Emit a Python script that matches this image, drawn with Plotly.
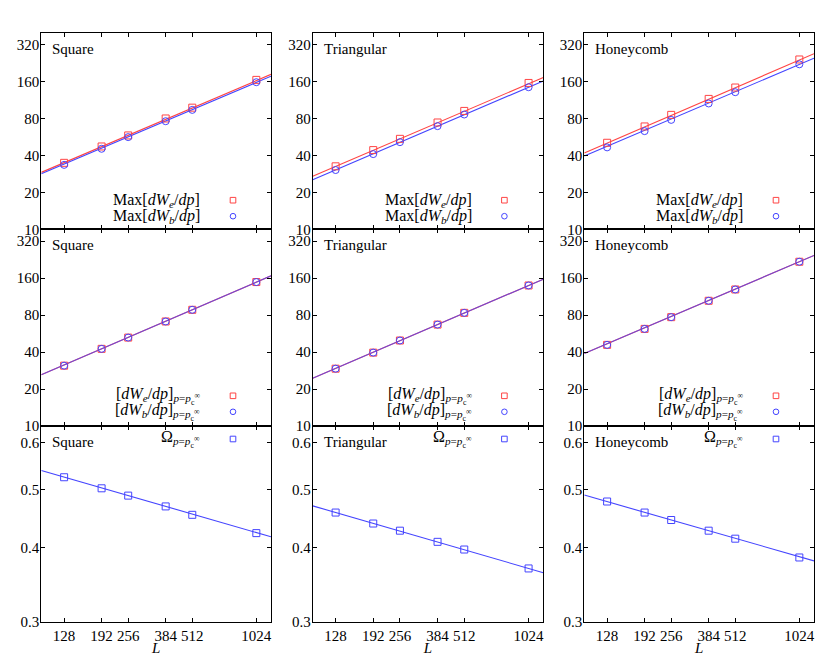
import math
import plotly.graph_objects as go

W, H = 830, 656

L = [128, 192, 256, 384, 512, 1024]
fit_L = [100, 1200]
x_ticks = [128, 192, 256, 384, 512, 1024]
y_ticks_dw = [10, 20, 40, 80, 160, 320]
y_ticks_om = [0.3, 0.4, 0.5, 0.6]

lattices = ["Square", "Triangular", "Honeycomb"]

# Row 1: Max[dW_e/dp] (red squares) and Max[dW_b/dp] (blue circles)
max_e = {
    "Square": [34.8, 47.3, 58.2, 80.0, 98.0, 165.0],
    "Triangular": [32.6, 44.2, 54.6, 74.2, 92.2, 155.8],
    "Honeycomb": [50.7, 68.9, 85.6, 115.5, 143.0, 242.0],
}
max_b = {
    "Square": [33.5, 45.3, 56.4, 76.0, 94.0, 158.0],
    "Triangular": [30.4, 41.0, 51.3, 69.3, 86.2, 143.8],
    "Honeycomb": [46.5, 63.1, 77.9, 106.0, 131.0, 221.0],
}
max_e_fit = {
    "Square": [29.1, 183.0],
    "Triangular": [27.1, 172.5],
    "Honeycomb": [41.8, 270.0],
}
max_b_fit = {
    "Square": [28.3, 177.0],
    "Triangular": [25.3, 161.8],
    "Honeycomb": [39.5, 248.0],
}

# Row 2: [dW/dp] at p = p_c^inf
pc_e = {
    "Square": [31.0, 42.5, 52.5, 71.0, 88.4, 148.7],
    "Triangular": [29.3, 39.6, 49.7, 67.0, 83.5, 139.5],
    "Honeycomb": [45.8, 61.8, 77.0, 104.7, 129.4, 217.7],
}
pc_b = {
    "Square": [31.0, 42.5, 52.5, 71.0, 88.4, 148.7],
    "Triangular": [29.3, 39.6, 49.7, 67.0, 83.5, 139.5],
    "Honeycomb": [45.8, 61.8, 77.0, 104.7, 129.4, 217.7],
}
pc_fit = {
    "Square": [26.1, 167.0],
    "Triangular": [24.5, 157.0],
    "Honeycomb": [38.9, 245.0],
}

# Row 3: Omega at p = p_c^inf
omega = {
    "Square": [0.525, 0.503, 0.489, 0.469, 0.454, 0.423],
    "Triangular": [0.458, 0.439, 0.427, 0.409, 0.397, 0.369],
    "Honeycomb": [0.478, 0.458, 0.445, 0.427, 0.414, 0.385],
}
omega_fit = {
    "Square": [0.539, 0.417],
    "Triangular": [0.470, 0.363],
    "Honeycomb": [0.490, 0.380],
}

RED = "#ff4444"
BLUE = "#4444ff"
FONT = "Liberation Serif"

col_px = [(41.3, 271.0), (312.7, 543.3), (584.3, 814.0)]
row_px = [(32.7, 229.3), (229.3, 426.0), (426.0, 622.0)]

fig = go.Figure()


def ax_name(i, kind):
    return kind if i == 1 else f"{kind}{i}"


def add_line(i, xs, ys, color, opacity=1.0):
    fig.add_trace(go.Scatter(x=xs, y=ys, mode="lines",
                             line=dict(color=color, width=1.1), opacity=opacity,
                             xaxis=f"x{i}", yaxis=f"y{i}", showlegend=False,
                             hoverinfo="skip"))


def add_pts(i, xs, ys, color, symbol):
    fig.add_trace(go.Scatter(x=xs, y=ys, mode="markers",
                             marker=dict(symbol=symbol, size=7, color=color,
                                         line=dict(color=color, width=1)),
                             xaxis=f"x{i}", yaxis=f"y{i}", showlegend=False))


annotations = []
shapes = []


def px2fx(px):
    return px / W


def px2fy(py):
    return 1 - py / H


for r in range(3):
    for c, lat in enumerate(lattices):
        i = r * 3 + c + 1
        x0, x1 = col_px[c]
        y0, y1 = row_px[r]
        if r == 0:
            add_line(i, fit_L, max_e_fit[lat], RED)
            add_line(i, fit_L, max_b_fit[lat], BLUE)
            add_pts(i, L, max_e[lat], RED, "square-open")
            add_pts(i, L, max_b[lat], BLUE, "circle-open")
        elif r == 1:
            add_line(i, fit_L, pc_fit[lat], RED)
            add_line(i, fit_L, pc_fit[lat], BLUE, 0.75)
            add_pts(i, L, pc_e[lat], RED, "square-open")
            add_pts(i, L, pc_b[lat], BLUE, "circle-open")
        else:
            add_line(i, fit_L, omega_fit[lat], BLUE)
            add_pts(i, L, omega[lat], BLUE, "square-open")

        xa = dict(type="log", range=[math.log10(100), math.log10(1200)],
                  domain=[px2fx(x0), px2fx(x1)], anchor=f"y{i}",
                  tickvals=x_ticks, ticktext=[str(v) for v in x_ticks] if r == 2 else [""] * 6,
                  ticks="inside", ticklen=4, tickcolor="black", mirror="ticks",
                  showline=True, linecolor="black", linewidth=1,
                  showgrid=False, zeroline=False,
                  tickfont=dict(family=FONT, size=15, color="black"))
        if r == 2:
            xa["title"] = dict(text="<i>L</i>", font=dict(family=FONT, size=15, color="black"), standoff=1)
        if r < 2:
            ya = dict(type="log", range=[1, math.log10(400)], tickvals=y_ticks_dw,
                      ticktext=[str(v) for v in y_ticks_dw])
        else:
            ya = dict(type="log", range=[math.log10(0.3), math.log10(0.64)], tickvals=y_ticks_om,
                      ticktext=[str(v) for v in y_ticks_om])
        ya.update(domain=[px2fy(y1), px2fy(y0)], anchor=f"x{i}",
                  ticks="inside", ticklen=4, tickcolor="black", mirror="ticks",
                  showline=True, linecolor="black", linewidth=1,
                  showgrid=False, zeroline=False, ticklabelstandoff=-2,
                  tickfont=dict(family=FONT, size=15, color="black"))
        fig.layout[ax_name(i, "xaxis")] = xa
        fig.layout[ax_name(i, "yaxis")] = ya

        # panel title
        annotations.append(dict(text=lat, x=px2fx(x0 + 9), y=px2fy(y0 + 16),
                                xref="paper", yref="paper", xanchor="left", yanchor="middle",
                                showarrow=False, font=dict(family=FONT, size=15, color="black")))
        # legend texts + keys
        tx = px2fx(x0 + 161)
        kx = x0 + 191.7
        if r == 0:
            items = [("Max[<i>dW<sub>e</sub></i>/<i>dp</i>]", y0 + 167.5, RED, "rect"),
                     ("Max[<i>dW<sub>b</sub></i>/<i>dp</i>]", y0 + 183.5, BLUE, "circle")]
        elif r == 1:
            items = [("[<i>dW<sub>e</sub></i>/<i>dp</i>]<sub><i>p</i>=<i>p</i><sub>c</sub><sup>∞</sup></sub>", y0 + 166.5, RED, "rect"),
                     ("[<i>dW<sub>b</sub></i>/<i>dp</i>]<sub><i>p</i>=<i>p</i><sub>c</sub><sup>∞</sup></sub>", y0 + 182.5, BLUE, "circle")]
        else:
            items = [("Ω<sub><i>p</i>=<i>p</i><sub>c</sub><sup>∞</sup></sub>", y0 + 13, BLUE, "rect")]
        for text, ky, color, shp in items:
            annotations.append(dict(text=text, x=tx, y=px2fy(ky), xref="paper", yref="paper",
                                    xanchor="right", yanchor="middle", showarrow=False,
                                    font=dict(family=FONT, size=16, color="black")))
            s = 2.8
            shapes.append(dict(type=shp, xref="paper", yref="paper",
                               x0=px2fx(kx - s), x1=px2fx(kx + s),
                               y0=px2fy(ky + s), y1=px2fy(ky - s),
                               line=dict(color=color, width=1), fillcolor="rgba(0,0,0,0)"))

fig.update_layout(width=W, height=H, margin=dict(l=0, r=0, t=0, b=0, autoexpand=False),
                  plot_bgcolor="white", paper_bgcolor="white",
                  annotations=annotations, shapes=shapes, showlegend=False)

fig.write_html("out.html", config={"displayModeBar": False},
               post_script="document.body.style.margin='0';document.body.style.overflow='hidden';")
